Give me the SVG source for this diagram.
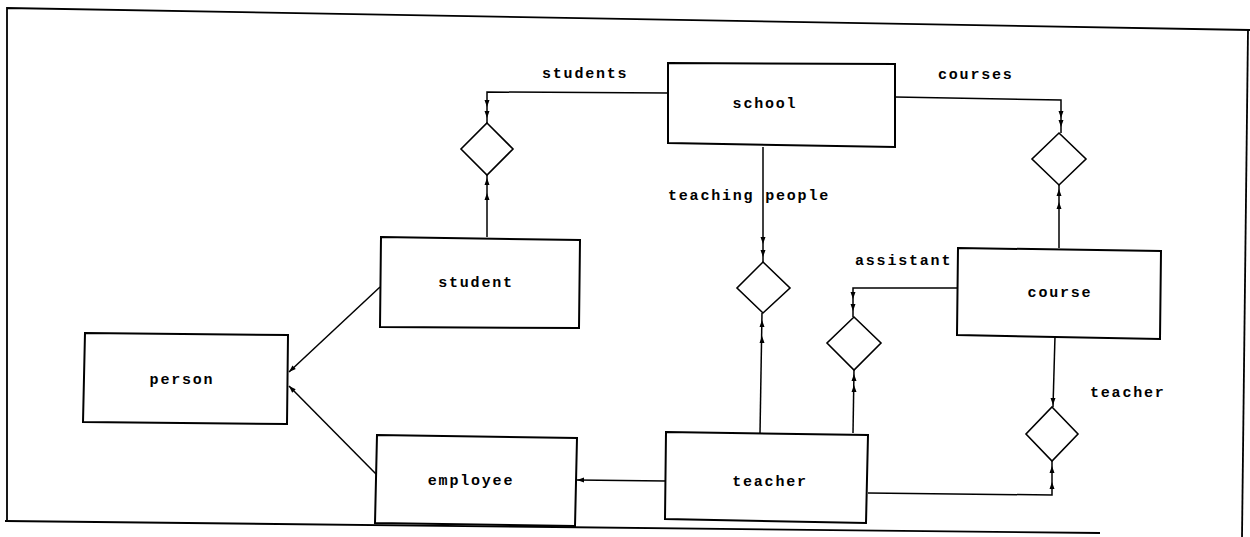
<svg xmlns="http://www.w3.org/2000/svg" width="1250" height="537" viewBox="0 0 1250 537">
<defs>
<style>
.box{fill:#fff;stroke:#000;stroke-width:2}
.dia{fill:#fff;stroke:#000;stroke-width:1.6}
.ln{fill:none;stroke:#000;stroke-width:1.5}
.frame{fill:none;stroke:#000;stroke-width:1.8}
text{font-family:"Liberation Mono","Courier New",monospace;font-size:15px;font-weight:bold;letter-spacing:1.8px;fill:#000}
.c{text-anchor:middle}
</style>
<path id="ah" d="M-2.5,-7 L2.5,-7 L0,0 Z" fill="#000"/>
</defs>
<rect width="1250" height="537" fill="#fff"/>
<g id="frame">
<polyline class="frame" points="7,520 7,8 1250,30"/>
<line class="frame" x1="5" y1="521" x2="1100" y2="533"/>
<line class="frame" x1="1248" y1="30" x2="1242" y2="537"/>
</g>
<g id="connectors">
<polyline class="ln" points="668,93 487,92 487,123"/>
<line class="ln" x1="487" y1="237" x2="487" y2="175"/>
<polyline class="ln" points="895,97 1061,100 1061,133"/>
<line class="ln" x1="1059" y1="248" x2="1059" y2="185"/>
<line class="ln" x1="763" y1="147" x2="763" y2="262"/>
<line class="ln" x1="760" y1="433" x2="762" y2="313"/>
<polyline class="ln" points="958,288 853,288 853,317"/>
<line class="ln" x1="853" y1="433" x2="854" y2="370"/>
<line class="ln" x1="1055" y1="336" x2="1053" y2="407"/>
<polyline class="ln" points="868,493 1052,495 1052,461"/>
<line class="ln" x1="666" y1="481" x2="577" y2="480"/>
<line class="ln" x1="380" y1="287" x2="289" y2="372"/>
<line class="ln" x1="377" y1="475" x2="289" y2="386"/>
<use href="#ah" transform="translate(487,107)"/>
<use href="#ah" transform="translate(487,118)"/>
<use href="#ah" transform="translate(487,178) rotate(180)"/>
<use href="#ah" transform="translate(487,193) rotate(180)"/>
<use href="#ah" transform="translate(1061,118)"/>
<use href="#ah" transform="translate(1061,127)"/>
<use href="#ah" transform="translate(1059,189) rotate(180)"/>
<use href="#ah" transform="translate(1059,202) rotate(180)"/>
<use href="#ah" transform="translate(763,244)"/>
<use href="#ah" transform="translate(763,257)"/>
<use href="#ah" transform="translate(762,320) rotate(180)"/>
<use href="#ah" transform="translate(762,336) rotate(180)"/>
<use href="#ah" transform="translate(853,299)"/>
<use href="#ah" transform="translate(853,311)"/>
<use href="#ah" transform="translate(854,374) rotate(180)"/>
<use href="#ah" transform="translate(854,385) rotate(180)"/>
<use href="#ah" transform="translate(1053,405)"/>
<use href="#ah" transform="translate(1052,466) rotate(180)"/>
<use href="#ah" transform="translate(1052,482) rotate(180)"/>
<use href="#ah" transform="translate(577,480) rotate(90)"/>
<use href="#ah" transform="translate(289,372) rotate(47)"/>
<use href="#ah" transform="translate(289,386) rotate(135)"/>
<text x="542" y="78">students</text>
<text x="938" y="79">courses</text>
<text x="668" y="200">teaching people</text>
<text x="855" y="265">assistant</text>
<text x="1090" y="397">teacher</text>
</g>
<g id="school">
<polygon class="box" points="668,63 895,64 895,147 668,143"/>
<text class="c" x="765" y="108">school</text>
</g>
<g id="student">
<polygon class="box" points="381,237 580,240 579,328 380,327"/>
<text class="c" x="476" y="287">student</text>
</g>
<g id="person">
<polygon class="box" points="85,333 288,335 287,424 83,422"/>
<text class="c" x="182" y="384">person</text>
</g>
<g id="employee">
<polygon class="box" points="377,435 577,438 575,526 375,523"/>
<text class="c" x="471" y="485">employee</text>
</g>
<g id="teacher">
<polygon class="box" points="666,432 868,435 866,523 665,519"/>
<text class="c" x="770" y="486">teacher</text>
</g>
<g id="course">
<polygon class="box" points="958,248 1161,251 1160,339 957,335"/>
<text class="c" x="1060" y="297">course</text>
</g>
<g id="rel-students"><polygon class="dia" points="487,123 513,149 487,175 461,149"/></g>
<g id="rel-courses"><polygon class="dia" points="1059,133 1086,159 1059,185 1032,159"/></g>
<g id="rel-teaching"><polygon class="dia" points="763,262 790,288 763,313 737,288"/></g>
<g id="rel-assistant"><polygon class="dia" points="854,317 881,343 854,370 827,343"/></g>
<g id="rel-teacher"><polygon class="dia" points="1052,407 1078,434 1052,461 1026,434"/></g>
</svg>
